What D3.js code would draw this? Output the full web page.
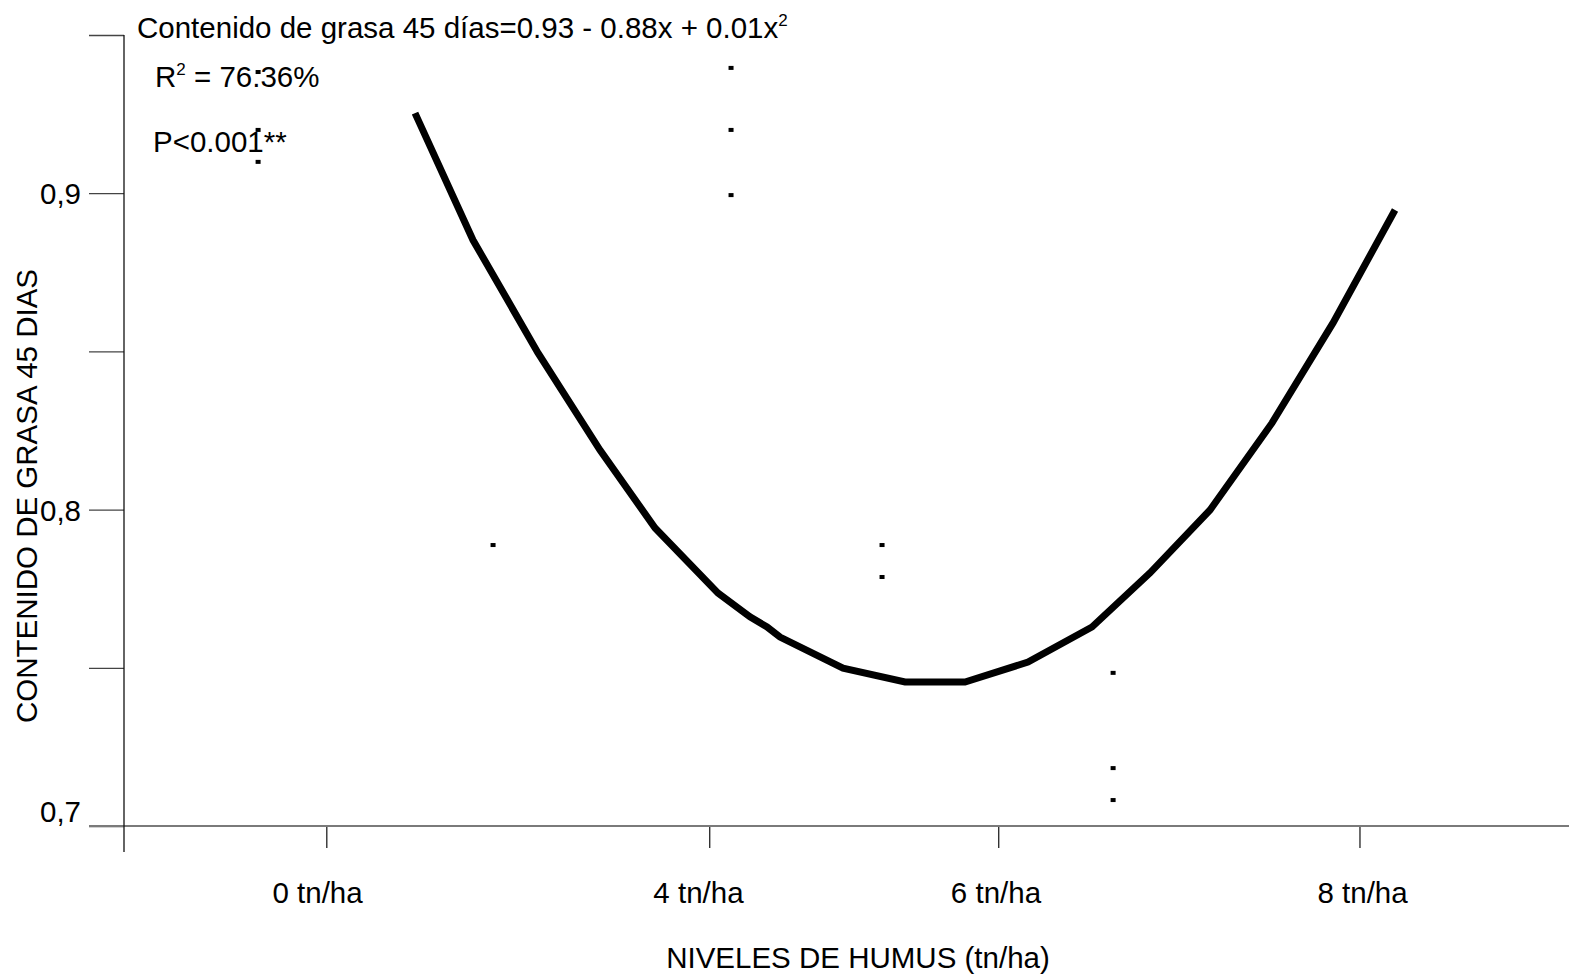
<!DOCTYPE html>
<html>
<head>
<meta charset="utf-8">
<script src="https://cdn.jsdelivr.net/npm/d3@7"></script>
<style>
  html, body { margin: 0; padding: 0; background: #fff; }
  svg text { font-family: "Liberation Sans", Arial, Helvetica, sans-serif; fill: #000; }
</style>
</head>
<body>
<svg id="chart" width="1569" height="975"></svg>
<script>
// Fitted quadratic curve (humus level vs. fat content at 45 days)
const curveX = [1.964, 2.365, 2.815, 3.244, 3.625, 4.061, 4.282, 4.400, 4.490, 4.926,
                5.355, 5.770, 6.206, 6.649, 7.051, 7.466, 7.895, 8.317, 8.746];
const curveY = [0.9253, 0.8852, 0.8495, 0.8188, 0.7942, 0.7736, 0.7661, 0.7629, 0.7597, 0.7499,
                0.7455, 0.7455, 0.7518, 0.7629, 0.7800, 0.7999, 0.8274, 0.8590, 0.8947];

// Observed values
const obsX = [0.878, 0.878, 0.878, 2.504, 4.151, 4.151, 4.151, 5.196, 5.196, 6.795, 6.795, 6.795];
const obsY = [0.9383, 0.9200, 0.9099, 0.7888, 0.9396, 0.9200, 0.8994, 0.7888, 0.7787, 0.7484, 0.7183, 0.7082];

// Axis ticks
const yTickValues = [0.70, 0.75, 0.80, 0.85, 0.90, 0.95];
const yTickLabels = ["0,7", "", "0,8", "", "0,9", ""];
const xTickValues = [1.35, 4, 6, 8.5];
const xLabelValues = [1.286, 3.922, 5.981, 8.518];
const xTickLabels = ["0 tn/ha", "4 tn/ha", "6 tn/ha", "8 tn/ha"];

const FONT = "29.5px";
const svg = d3.select("#chart");

const x = d3.scaleLinear().domain([-0.05, 9.95]).range([124, 1569]);
const y = d3.scaleLinear().domain([0.70, 0.95]).range([826, 35]);

const x0 = x.domain()[0];
const y0 = y.domain()[0];

// Y axis
const yAxis = d3.axisLeft(y)
  .tickValues(yTickValues)
  .tickFormat((d, i) => yTickLabels[i])
  .tickSize(35)
  .tickSizeOuter(0)
  .tickPadding(8);

const gy = svg.append("g")
  .attr("transform", `translate(${x(x0)},0)`)
  .call(yAxis);
gy.select(".domain").remove();
gy.selectAll(".tick line").attr("stroke", "#444").attr("stroke-width", 1.3);
gy.selectAll(".tick text")
  .style("font-size", FONT)
  .attr("dy", d => d === y0 ? "-0.14em" : "0.36em");

// X axis: tick marks
const gx = svg.append("g")
  .attr("transform", `translate(0,${y(y0)})`)
  .call(d3.axisBottom(x).tickValues(xTickValues).tickFormat("").tickSize(22).tickSizeOuter(0));
gx.select(".domain").remove();
gx.selectAll(".tick line").attr("stroke", "#222").attr("stroke-width", 1.3);

// X axis: category labels
const gxl = svg.append("g")
  .attr("transform", `translate(0,${y(y0)})`)
  .call(d3.axisBottom(x).tickValues(xLabelValues)
    .tickFormat((d, i) => xTickLabels[i]).tickSize(0).tickPadding(56));
gxl.select(".domain").remove();
gxl.selectAll(".tick line").remove();
gxl.selectAll(".tick text").style("font-size", FONT);

// Axis lines
svg.append("line")
  .attr("x1", x(x0) - 35).attr("x2", x.range()[1])
  .attr("y1", y(y0)).attr("y2", y(y0))
  .attr("stroke", "#7a7a7a").attr("stroke-width", 2);

svg.append("line")
  .attr("x1", x(x0)).attr("x2", x(x0))
  .attr("y1", y(y.domain()[1])).attr("y2", y(y0) + 26)
  .attr("stroke", "#111").attr("stroke-width", 1.3);

// Axis titles
svg.append("text")
  .attr("x", 858).attr("y", 968)
  .attr("text-anchor", "middle")
  .style("font-size", FONT)
  .text("NIVELES DE HUMUS (tn/ha)");

svg.append("text")
  .attr("transform", "translate(37,496) rotate(-90)")
  .attr("text-anchor", "middle")
  .style("font-size", FONT)
  .text("CONTENIDO DE GRASA 45 DIAS");

// Regression annotations
const eq = svg.append("text").attr("x", 137).attr("y", 38).style("font-size", FONT);
eq.append("tspan").text("Contenido de grasa 45 días=0.93 - 0.88x + 0.01x");
eq.append("tspan").attr("dy", -12).style("font-size", "17px").text("2");

const r2 = svg.append("text").attr("x", 155).attr("y", 87).style("font-size", FONT);
r2.append("tspan").text("R");
r2.append("tspan").attr("dy", -12).style("font-size", "17px").text("2");
r2.append("tspan").attr("dy", 12).text(" = 76.36%");

svg.append("text").attr("x", 153).attr("y", 152).style("font-size", FONT).text("P<0.001**");

// Fitted curve
const line = d3.line().x(d => x(d[0])).y(d => y(d[1]));
svg.append("path")
  .datum(d3.zip(curveX, curveY))
  .attr("d", line)
  .attr("fill", "none")
  .attr("stroke", "#000")
  .attr("stroke-width", 7)
  .attr("stroke-linejoin", "miter");

// Observation markers
svg.append("g")
  .selectAll("rect")
  .data(d3.zip(obsX, obsY))
  .join("rect")
  .attr("x", d => x(d[0]) - 2.5)
  .attr("y", d => y(d[1]) - 2)
  .attr("width", 5)
  .attr("height", 4)
  .attr("fill", "#000");
</script>
</body>
</html>
